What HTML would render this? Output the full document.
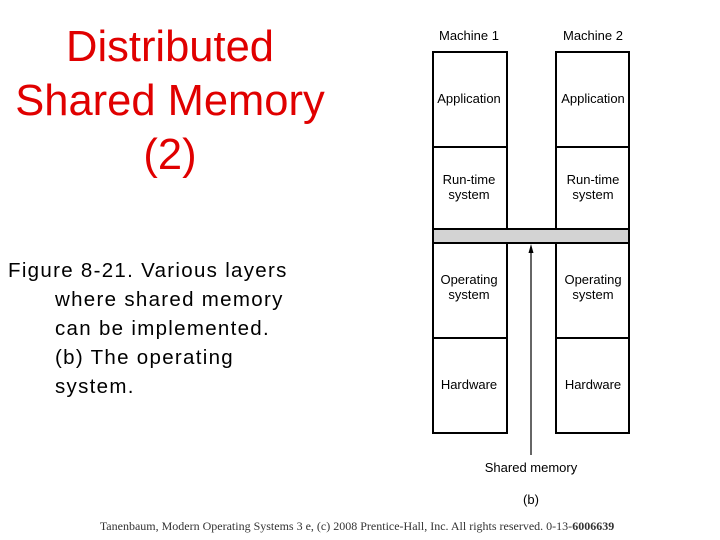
<!DOCTYPE html>
<html><head><style>
body{margin:0;width:720px;height:540px;background:#fff;position:relative;overflow:hidden;font-family:"Liberation Sans",sans-serif}
.t{position:absolute;left:0;width:340px;text-align:center;color:#e00000;font-size:43.5px;line-height:54px;top:20px}
.f{position:absolute;left:8px;top:256px;font-size:20.5px;line-height:29px;color:#000;width:320px;letter-spacing:1.3px}
.f div{padding-left:47px}
.f div:first-child{padding-left:0}
.ft{position:absolute;left:-3px;width:720px;text-align:center;top:519px;font-family:"Liberation Serif",serif;font-size:12px;color:#333}
</style></head><body>
<div class="t">Distributed<br>Shared Memory<br>(2)</div>
<div class="f"><div>Figure 8-21. Various layers</div><div>where shared memory</div><div>can be implemented.</div><div>(b) The operating</div><div>system.</div></div>
<svg width="720" height="540" style="position:absolute;left:0;top:0" font-family="Liberation Sans, sans-serif" font-size="13" text-anchor="middle" fill="#000">
<g fill="none" stroke="#000" stroke-width="2">
<rect x="433" y="52" width="74" height="177"/>
<rect x="556" y="52" width="73" height="177"/>
<line x1="433" y1="147" x2="507" y2="147"/>
<line x1="556" y1="147" x2="629" y2="147"/>
<rect x="433" y="243" width="74" height="190"/>
<rect x="556" y="243" width="73" height="190"/>
<line x1="433" y1="338" x2="507" y2="338"/>
<line x1="556" y1="338" x2="629" y2="338"/>
</g>
<rect x="433" y="229" width="196" height="14" fill="#d3d3d3" stroke="#000" stroke-width="2"/>
<line x1="531" y1="455" x2="531" y2="250" stroke="#000" stroke-width="1.2"/>
<polygon points="531,244 528.5,253 533.5,253" fill="#000"/>
<text x="469" y="40">Machine 1</text><text x="593" y="40">Machine 2</text>
<text x="469" y="103">Application</text><text x="593" y="103">Application</text>
<text x="469" y="184">Run-time</text><text x="469" y="199">system</text>
<text x="593" y="184">Run-time</text><text x="593" y="199">system</text>
<text x="469" y="284">Operating</text><text x="469" y="299">system</text>
<text x="593" y="284">Operating</text><text x="593" y="299">system</text>
<text x="469" y="389">Hardware</text><text x="593" y="389">Hardware</text>
<text x="531" y="472">Shared memory</text>
<text x="531" y="504">(b)</text>
</svg>
<div class="ft">Tanenbaum, Modern Operating Systems 3 e, (c) 2008 Prentice-Hall, Inc. All rights reserved. 0-13-<b>6006639</b></div>
</body></html>
